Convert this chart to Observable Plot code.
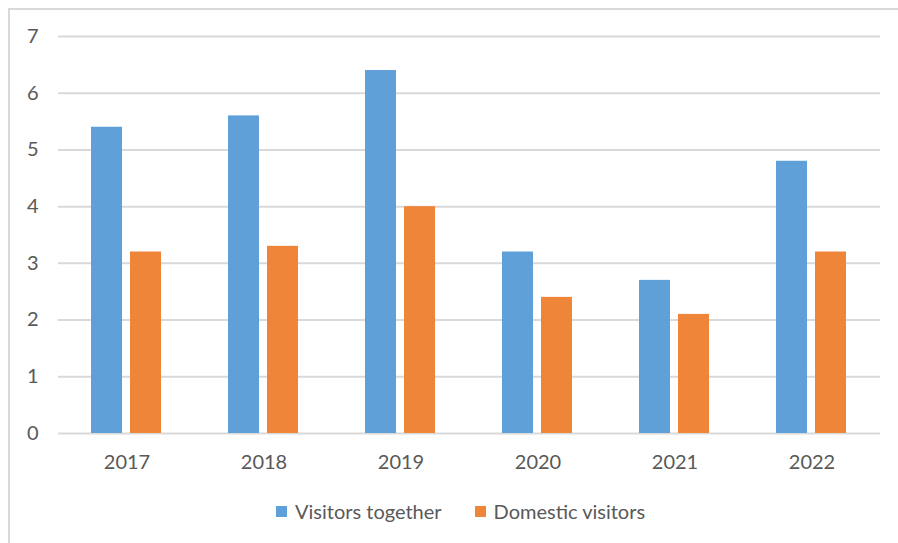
<!DOCTYPE html>
<html>
<head>
<meta charset="utf-8">
<script src="https://cdn.jsdelivr.net/npm/d3@7"></script>
<script src="https://cdn.jsdelivr.net/npm/@observablehq/plot@0.6"></script>
<style>
  html, body { margin: 0; padding: 0; background: #fff; overflow: hidden; width: 898px; height: 543px; }
  body { font-family: Lato, "Open Sans", sans-serif; }
  #frame { position: absolute; left: 8px; top: 8px; width: 1000px; height: 1000px; border: 2.5px solid #d9d9d9; }
  #chart { position: absolute; left: 0; top: 0; width: 898px; }
  #legend { position: absolute; left: 276px; top: 499px; display: flex; align-items: center; gap: 33px; font-size: 20px; color: #595959; }
  .item { display: flex; align-items: center; gap: 8px; }
  .sw { width: 11px; height: 11px; display: inline-block; }
</style>
</head>
<body>
<div id="frame"></div>
<div id="chart"></div>
<div id="legend"></div>
<script>
const years = ["2017", "2018", "2019", "2020", "2021", "2022"];
const series = ["Visitors together", "Domestic visitors"];
const visitorsTogether = [5.4, 5.6, 6.4, 3.2, 2.7, 4.8];
const domesticVisitors = [3.2, 3.3, 4.0, 2.4, 2.1, 3.2];
const yTicks = [0, 1, 2, 3, 4, 5, 6, 7];
const colors = ["#5fa0d8", "#ef8538"];

const data = years.flatMap((yr, i) => [
  {year: yr, series: series[0], value: visitorsTogether[i]},
  {year: yr, series: series[1], value: domesticVisitors[i]}
]);

const chart = Plot.plot({
  width: 898,
  height: 490,
  marginTop: 36,
  marginLeft: 57,
  marginRight: 18,
  marginBottom: 57,
  style: {fontFamily: "Lato, 'Open Sans', sans-serif", fontSize: "20px", color: "#595959", background: "transparent"},
  fx: {domain: years, padding: 0, label: null, axis: null},
  x: {domain: series, paddingInner: 0.205, paddingOuter: 0.846, axis: null},
  y: {domain: [0, 7], label: null, axis: null},
  color: {domain: series, range: colors},
  marks: [
    Plot.ruleY(yTicks, {stroke: "#d9d9d9", strokeWidth: 2, strokeOpacity: 1}),
    Plot.barY(data, {fx: "year", x: "series", y: "value", fill: "series"}),
    Plot.axisY(yTicks, {anchor: "left", tickSize: 0, tickPadding: 20, tickFormat: "d", label: null, fill: "#595959", fontSize: 20}),
    Plot.axisFx({anchor: "bottom", tickSize: 0, tickPadding: 21, label: null, fill: "#595959", fontSize: 20})
  ]
});
document.getElementById("chart").appendChild(chart);

const legend = document.getElementById("legend");
series.forEach((s, i) => {
  const item = document.createElement("div");
  item.className = "item";
  const sw = document.createElement("span");
  sw.className = "sw";
  sw.style.background = colors[i];
  const t = document.createElement("span");
  t.textContent = s;
  item.appendChild(sw);
  item.appendChild(t);
  legend.appendChild(item);
});
</script>
</body>
</html>
